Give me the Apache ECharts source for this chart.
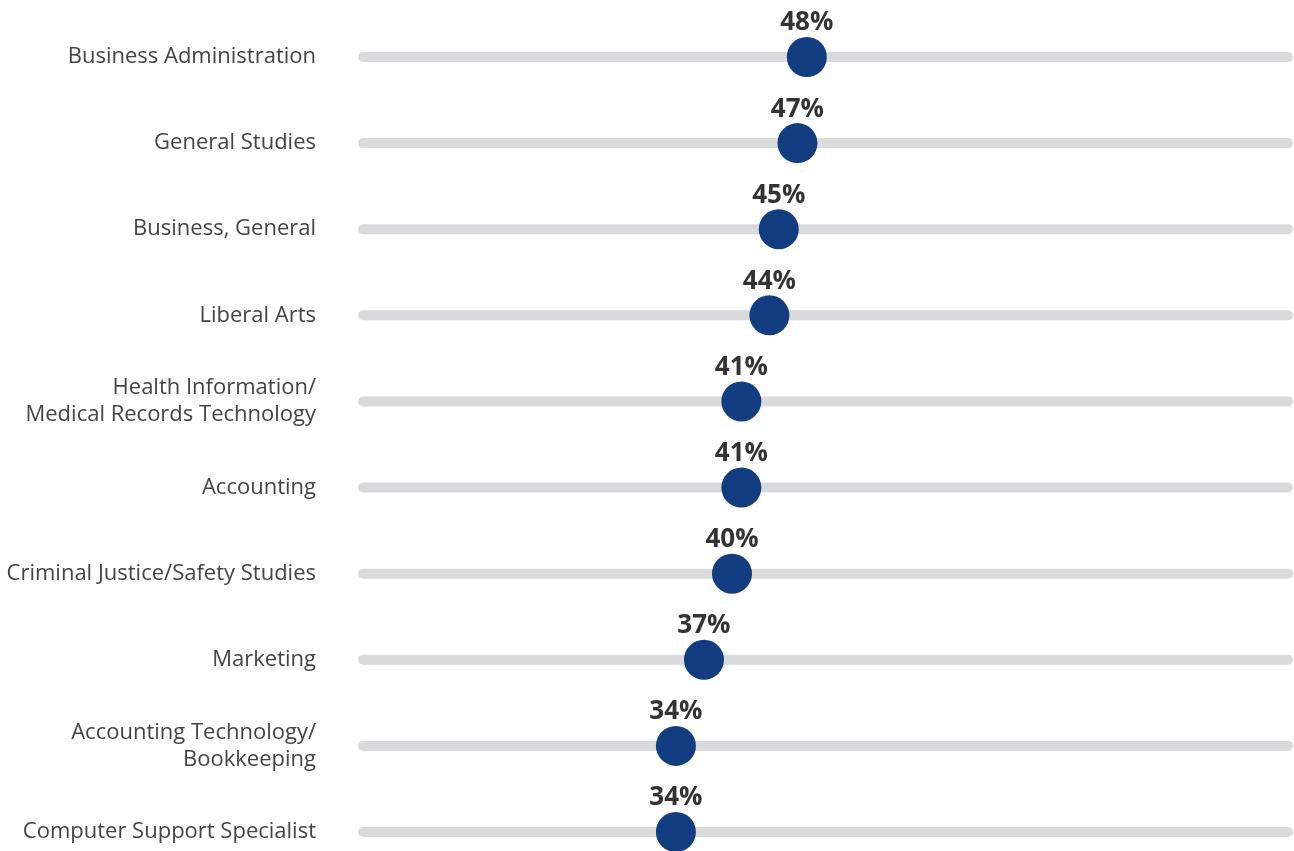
<!DOCTYPE html>
<html>
<head>
<meta charset="utf-8">
<script src="https://cdn.jsdelivr.net/npm/echarts@6/dist/echarts.min.js"></script>
<style>
  html, body { margin: 0; padding: 0; background: #fff; }
  #chart { width: 1294px; height: 851px; }
</style>
</head>
<body>
<div id="chart"></div>
<script>
// data
var majors = [
    'Business Administration',
    'General Studies',
    'Business, General',
    'Liberal Arts',
    'Health Information/\nMedical Records Technology',
    'Accounting',
    'Criminal Justice/Safety Studies',
    'Marketing',
    'Accounting Technology/\nBookkeeping',
    'Computer Support Specialist'
];
var shares = [48, 47, 45, 44, 41, 41, 40, 37, 34, 34];
var trackMax = 100;

var chart = echarts.init(document.getElementById('chart'));

chart.setOption({
    animation: false,
    grid: {
        left: 358,
        right: 1,
        top: 57,
        bottom: 19
    },
    xAxis: {
        type: 'value',
        min: 0,
        max: trackMax,
        show: false
    },
    yAxis: {
        type: 'category',
        data: majors,
        inverse: true,
        boundaryGap: false,
        axisLine: { show: false },
        axisTick: { show: false },
        splitLine: { show: false },
        axisLabel: {
            margin: 42,
            fontFamily: 'Open Sans',
            fontSize: 22,
            lineHeight: 27,
            color: '#444444',
            align: 'right'
        }
    },
    series: [
        {
            // grey track behind each dot
            type: 'bar',
            silent: true,
            barWidth: 10,
            data: majors.map(function () { return trackMax; }),
            itemStyle: {
                color: '#d9dadc',
                borderRadius: 5
            },
            z: 1
        },
        {
            type: 'scatter',
            symbol: 'circle',
            symbolSize: 40,
            data: shares,
            itemStyle: { color: '#123d80', opacity: 1 },
            label: {
                show: true,
                position: 'top',
                distance: 1,
                formatter: '{c}%',
                fontFamily: 'Open Sans',
                fontWeight: 'bold',
                fontSize: 26,
                color: '#333333'
            },
            z: 2
        }
    ]
});
</script>
</body>
</html>
